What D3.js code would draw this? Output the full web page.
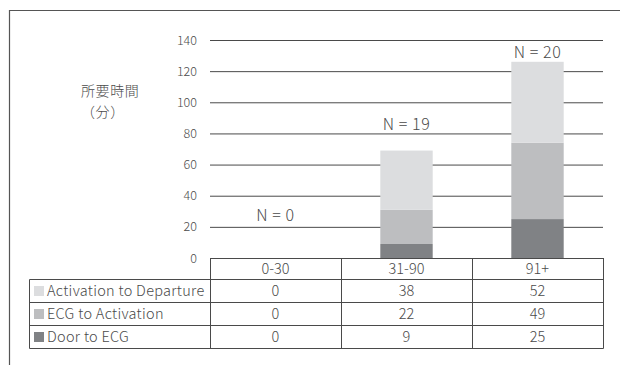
<!DOCTYPE html>
<html><head><meta charset="utf-8">
<script src="https://cdn.jsdelivr.net/npm/d3@7"></script>
<style>
html,body{margin:0;padding:0;background:#fff;}
svg{display:block;font-family:"Noto Sans CJK JP","Noto Sans",sans-serif;font-weight:300;}
</style></head>
<body><svg id="chart" width="620" height="365"></svg>
<script>
const categories = ["0-30", "31-90", "91+"];
const seriesNames = ["Activation to Departure", "ECG to Activation", "Door to ECG"];
const doorToECG = [0, 9, 25];
const ecgToActivation = [0, 22, 49];
const activationToDeparture = [0, 38, 52];
const nLabels = ["N = 0", "N = 19", "N = 20"];
const nLabelY = [24, 82.5, 128.7];
const yTicks = [0, 20, 40, 60, 80, 100, 120, 140];
const yTitle = ["所要時間", "（分）"];

const colors = {"Door to ECG": "#808285", "ECG to Activation": "#bdbec0", "Activation to Departure": "#dcdddf"};
const lineColor = "#4a4a4a";
const textColor = "#4a4a4a";

const svg = d3.select("#chart");
const plotLeft = 210, plotRight = 603, plotTop = 40, plotBase = 258;

const y = d3.scaleLinear().domain([0, 140]).range([plotBase, plotTop]);
const xCol = d3.scaleBand().domain(categories).range([plotLeft, plotRight]).padding(0);
const xBar = d3.scaleBand().domain(categories).range([plotLeft, plotRight]).paddingInner(0.6).paddingOuter(0.3);

// frame
svg.append("path").attr("d", "M9.5,365 V10.5 H620").attr("fill", "none").attr("stroke", "#555").attr("stroke-width", 1.2);

// gridlines
const yAxis = d3.axisLeft(y).tickValues(yTicks).tickSize(-(plotRight - plotLeft)).tickPadding(13).tickFormat(d3.format("d"));
const gAxis = svg.append("g").attr("transform", `translate(${plotLeft},0)`).call(yAxis);
gAxis.select(".domain").remove();
gAxis.selectAll(".tick line").attr("stroke", lineColor).attr("stroke-width", 1);
gAxis.selectAll(".tick text").attr("fill", textColor).attr("font-size", 12.5)
  .attr("font-family", '"Noto Sans CJK JP", sans-serif').attr("font-weight", 300);

// stacked bars
const rows = categories.map((c, i) => ({cat: c,
  "Door to ECG": doorToECG[i], "ECG to Activation": ecgToActivation[i], "Activation to Departure": activationToDeparture[i]}));
const stack = d3.stack().keys(["Door to ECG", "ECG to Activation", "Activation to Departure"])(rows);
svg.append("g").selectAll("g").data(stack).join("g").attr("fill", d => colors[d.key])
  .selectAll("rect").data(d => d).join("rect")
  .attr("x", d => xBar(d.data.cat)).attr("width", xBar.bandwidth())
  .attr("y", d => y(d[1])).attr("height", d => y(d[0]) - y(d[1]));

// N labels
svg.append("g").selectAll("text").data(categories).join("text")
  .attr("x", d => xCol(d) + xCol.bandwidth() / 2).attr("y", (d, i) => y(nLabelY[i]))
  .attr("text-anchor", "middle").attr("font-size", 16).attr("letter-spacing", 0.6).attr("fill", textColor)
  .text((d, i) => nLabels[i]);

// y title
svg.append("g").selectAll("text").data(yTitle).join("text")
  .attr("x", 81).attr("y", (d, i) => 96 + i * 20.5)
  .attr("font-size", 14).attr("letter-spacing", 0.6).attr("fill", textColor).text(d => d);

// table
const tblLeft = 29.5, rowH = 23, headTop = plotBase, headBot = 279.5;
const tableRows = [
  {name: "Activation to Departure", vals: activationToDeparture},
  {name: "ECG to Activation", vals: ecgToActivation},
  {name: "Door to ECG", vals: doorToECG}
];
const tg = svg.append("g");
tg.append("line").attr("x1", plotLeft).attr("x2", plotRight).attr("y1", headTop + 0.5).attr("y2", headTop + 0.5).attr("stroke", lineColor);
const tableBottom = headBot + rowH * tableRows.length;
[0, 1, 2, 3].forEach(k => {
  const yy = headBot + k * rowH;
  tg.append("line").attr("x1", tblLeft).attr("x2", plotRight + 0.5).attr("y1", yy).attr("y2", yy).attr("stroke", lineColor);
});
tg.append("line").attr("x1", tblLeft).attr("x2", tblLeft).attr("y1", headBot).attr("y2", tableBottom).attr("stroke", lineColor);
categories.forEach(c => {
  const xx = Math.round(xCol(c)) + 0.5;
  tg.append("line").attr("x1", xx).attr("x2", xx).attr("y1", headTop).attr("y2", tableBottom).attr("stroke", lineColor);
});
tg.append("line").attr("x1", plotRight + 0.5).attr("x2", plotRight + 0.5).attr("y1", headTop).attr("y2", tableBottom).attr("stroke", lineColor);
tg.selectAll("text.h").data(categories).join("text").attr("class", "h")
  .attr("x", d => xCol(d) + xCol.bandwidth() / 2).attr("y", (headTop + headBot) / 2)
  .attr("dy", "0.36em").attr("text-anchor", "middle").attr("font-size", 14.5).attr("fill", textColor).text(d => d);
tableRows.forEach((r, k) => {
  const cy = headBot + k * rowH + rowH / 2;
  tg.append("rect").attr("x", 34).attr("y", cy - 5).attr("width", 10).attr("height", 10).attr("fill", colors[r.name]);
  tg.append("text").attr("x", 47).attr("y", cy).attr("dy", "0.36em").attr("font-size", 14.5).attr("letter-spacing", 0.3)
    .attr("fill", textColor).text(r.name);
  categories.forEach((c, i) => {
    tg.append("text").attr("x", xCol(c) + xCol.bandwidth() / 2).attr("y", cy).attr("dy", "0.36em")
      .attr("text-anchor", "middle").attr("font-size", 14.5).attr("fill", textColor).text(r.vals[i]);
  });
});
</script></body></html>
